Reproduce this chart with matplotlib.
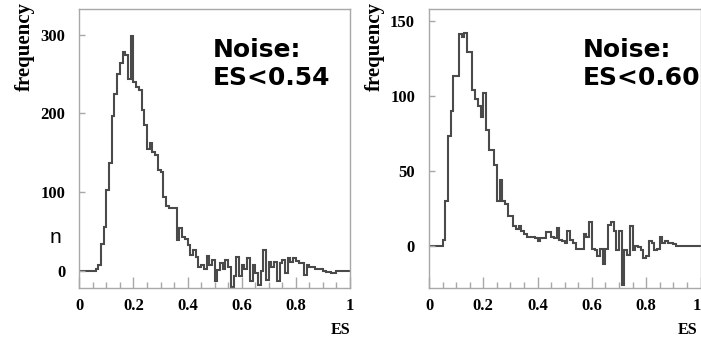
import numpy as np
import matplotlib
matplotlib.use("Agg")
import matplotlib.pyplot as plt

# 100 bins of width 0.01 on [0, 1]
bin_edges = np.linspace(0, 1, 101)

left_counts = [
    0, 0, 0, 0, 0, 0, 3, 8, 34, 56,
    103, 137, 196, 224, 250, 264, 278, 274, 244, 298,
    240, 234, 229, 204, 185, 155, 162, 151, 147, 128,
    126, 94, 82, 80, 80, 80, 39, 54, 43, 41,
    33, 20, 27, 18, 5, 8, 3, 19, 7, 14,
    -13, 1, 10, 2, 14, 5, -20, -7, 18, -7,
    8, 2, 16, -13, 8, -3, -18, 0, 26, -11,
    12, 5, 12, -13, 10, 14, -3, 16, 12, 17,
    13, 10, 10, -5, 8, 5, 5, 2, 3, 2,
    0, -1, -1, -2, -2, 0, 0, 0, 0, 0,
]

right_counts = [
    0, 0, 0, 0, 0, 4, 30, 73, 90, 113,
    113, 141, 139, 142, 129, 129, 104, 98, 93, 86,
    102, 77, 64, 64, 54, 30, 44, 30, 28, 20,
    20, 13, 11, 13, 10, 8, 6, 6, 6, 5,
    3, 5, 5, 9, 9, 6, 5, 12, 4, 3,
    2, 10, 4, 2, -2, -2, -2, 8, 6, 16,
    -2, -3, -7, -2, -12, -2, 14, 16, 10, -3,
    10, -26, -3, -6, 13, -3, 0, -1, -3, -8,
    -7, 3, 2, -3, -2, 6, 2, 3, 2, 2,
    1, 0, 0, 0, 0, 0, 0, 0, 0, 0,
]

x_ticks = [0, 0.2, 0.4, 0.6, 0.8, 1]
x_tick_labels = ["0", "0.2", "0.4", "0.6", "0.8", "1"]
left_y_ticks = [0, 100, 200, 300]
right_y_ticks = [0, 50, 100, 150]
left_note = "Noise:\nES<0.54"
right_note = "Noise:\nES<0.60"

W, H = 701, 338
fig = plt.figure(figsize=(W / 100, H / 100), dpi=100)

serif = "Liberation Serif"
frame_col = "#a8a8a8"
line_col = "#4a4a4a"


def px_axes(x0, x1, y0, y1):
    return fig.add_axes([x0 / W, 1 - y1 / H, (x1 - x0) / W, (y1 - y0) / H])


def setup(ax, counts, yticks, ylim, es_x):
    ax.stairs(counts, bin_edges, baseline=None, color=line_col, lw=1.5)
    ax.set_xlim(0, 1)
    ax.set_ylim(*ylim)
    for sp in ax.spines.values():
        sp.set_color(frame_col)
        sp.set_linewidth(1.0)
    ax.set_xticks(x_ticks)
    ax.set_xticklabels(x_tick_labels)
    ax.set_xticks(np.arange(0, 1.001, 0.05), minor=True)
    ax.set_yticks(yticks)
    ax.tick_params(axis="x", which="major", direction="in", length=8,
                   width=1, color=frame_col, pad=7)
    ax.tick_params(axis="x", which="minor", direction="in", length=4,
                   width=1, color=frame_col)
    ax.tick_params(axis="y", which="major", direction="in", length=4,
                   width=1, color=frame_col, pad=10)
    for lab in ax.get_xticklabels() + ax.get_yticklabels():
        lab.set_fontfamily(serif)
        lab.set_fontweight("bold")
        lab.set_fontsize(12)
    ax.text(-0.2, 1.025, "frequency", rotation=90, ha="center", va="top",
            transform=ax.transAxes, family=serif, weight="bold", fontsize=15)
    ax.text(es_x, -0.12, "ES", ha="right", va="top", transform=ax.transAxes,
            family=serif, weight="bold", fontsize=11.5)
    return ax


ax1 = px_axes(79.3, 350, 9.3, 288.3)
setup(ax1, left_counts, left_y_ticks, (-22, 332), 1.0)
ax1.text(0.494, 0.897, left_note, ha="left", va="top", transform=ax1.transAxes,
         family="DejaVu Sans", weight="bold", fontsize=18, linespacing=1.2)

ax2 = px_axes(429, 700.5, 9.3, 288.3)
setup(ax2, right_counts, right_y_ticks, (-28.4, 157.6), 0.99)
# last label sits on the figure edge; keep it inside
ax2.get_xticklabels()[-1].set_horizontalalignment("right")
ax2.text(0.566, 0.897, right_note, ha="left", va="top", transform=ax2.transAxes,
         family="DejaVu Sans", weight="bold", fontsize=18, linespacing=1.2,
         clip_on=False)

# stray letter from the slide this was cut from
fig.text(50 / W, 1 - 243 / H, "n", ha="left", va="baseline",
         family="Liberation Sans", fontsize=15)

fig.savefig("out.png", dpi=100)
